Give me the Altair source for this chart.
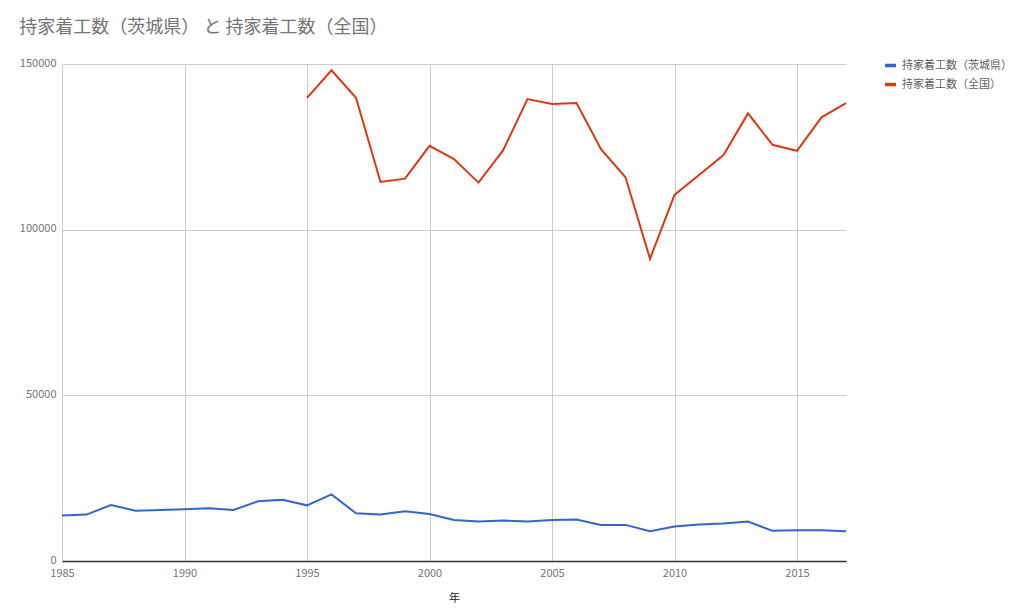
import altair as alt
import pandas as pd

years = list(range(1985, 2018))
ibaraki = [13700, 14000, 16900, 15200, 15400, 15600, 15900, 15400, 18000, 18500,
           16800, 20100, 14400, 14000, 15000, 14200, 12400, 11900, 12200, 11900,
           12400, 12500, 10900, 10900, 9000, 10400, 11000, 11300, 11900, 9100,
           9300, 9300, 9000]
zenkoku_years = list(range(1995, 2018))
zenkoku = [139800, 148100, 139800, 114400, 115400, 125300, 121300, 114200, 123900,
           139400, 137900, 138200, 124300, 115800, 91200, 110500, 116500, 122500,
           135100, 125600, 123800, 133900, 138200]

s1 = "持家着工数（茨城県）"
s2 = "持家着工数（全国）"

rows = [{"年": y, "系列": s1, "値": v} for y, v in zip(years, ibaraki)]
rows += [{"年": y, "系列": s2, "値": v} for y, v in zip(zenkoku_years, zenkoku)]
df = pd.DataFrame(rows)

font = "Noto Sans CJK JP"

chart = alt.Chart(df).mark_line(strokeWidth=2).encode(
    x=alt.X("年:Q",
            scale=alt.Scale(domain=[1985, 2017], nice=False, zero=False),
            axis=alt.Axis(values=[1985, 1990, 1995, 2000, 2005, 2010, 2015],
                          format="d", title="年", tickSize=0, labelPadding=6,
                          labelFlush=False,
                          domainColor="#333333", domainWidth=1.5,
                          titlePadding=14)),
    y=alt.Y("値:Q",
            scale=alt.Scale(domain=[0, 150000], nice=False),
            axis=alt.Axis(values=[0, 50000, 100000, 150000], format="d",
                          title=None, tickSize=0, labelPadding=6, domain=False,
                          labelOffset=-1)),
    color=alt.Color("系列:N",
                    scale=alt.Scale(domain=[s1, s2], range=["#3366CC", "#DC3912"]),
                    legend=alt.Legend(title=None, orient="none", legendX=821, legendY=-6,
                                      symbolType="stroke", symbolSize=121,
                                      symbolStrokeWidth=3.5,
                                      rowPadding=4, labelFontSize=11,
                                      labelColor="#5f5f5f", labelFont=font)),
).properties(
    width=784, height=497,
    title=alt.TitleParams(s1 + " と " + s2, anchor="start", dx=0, offset=20,
                          fontSize=18, color="#757575", font=font, fontWeight="normal"),
    autosize=alt.AutoSizeParams(type="none"),
    padding={"left": 54, "top": 56, "right": 170, "bottom": 45},
).configure_view(stroke=None).configure_axis(
    labelFont=font, labelFontSize=11, labelColor="#757575",
    titleFont=font, titleFontSize=11, titleColor="#222222", titleFontWeight="normal",
    gridColor="#CCCCCC", gridWidth=1,
)

chart.save("out.html", embed_options={"renderer": "svg", "actions": False})
